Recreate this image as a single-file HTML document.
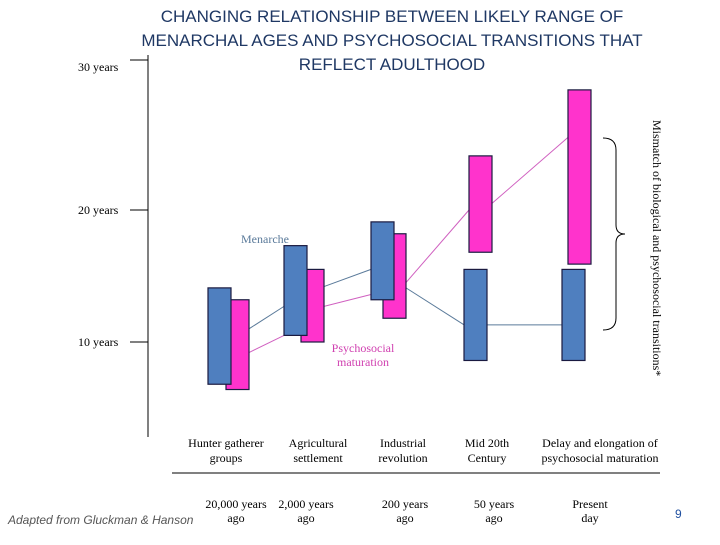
<!DOCTYPE html>
<html><head><meta charset="utf-8"><style>
body{margin:0;background:#fff;}
svg text{font-family:"Liberation Serif",serif;}
</style></head><body>
<svg width="720" height="540" xmlns="http://www.w3.org/2000/svg">
<g fill="#1f3864" font-size="17" text-anchor="middle">
<text x="392" y="22" style="font-family:'Liberation Sans',sans-serif">CHANGING RELATIONSHIP BETWEEN LIKELY RANGE OF</text>
<text x="392" y="46" style="font-family:'Liberation Sans',sans-serif">MENARCHAL AGES  AND PSYCHOSOCIAL TRANSITIONS THAT</text>
<text x="392" y="70" style="font-family:'Liberation Sans',sans-serif">REFLECT ADULTHOOD</text>
</g>
<line x1="148" y1="55" x2="148" y2="437" stroke="#000"/>
<g id="yticks"></g>
<g id="lines"></g>
<g id="boxes"></g>
<text x="265" y="243" font-size="12" fill="#5a7a9a" text-anchor="middle">Menarche</text>
<text x="363" y="352" font-size="12" fill="#d040b0" text-anchor="middle">Psychosocial</text>
<text x="363" y="366" font-size="12" fill="#d040b0" text-anchor="middle">maturation</text>
<path d="M603,138 Q616,138 616,150 L616,225 Q616,234 625,234 Q616,234 616,243 L616,318 Q616,330 603,330" fill="none" stroke="#000"/>
<text transform="translate(653,120) rotate(90)" font-size="12">Mismatch of biological and psychosocial transitions*</text>
<g id="cats" font-size="12" text-anchor="middle"></g>
<line x1="172" y1="473" x2="660" y2="473" stroke="#000"/>
<text x="8" y="524" font-size="12" fill="#555" font-style="italic" style="font-family:'Liberation Sans',sans-serif">Adapted from Gluckman &amp; Hanson</text>
<text x="675" y="518" font-size="12" fill="#2050a0" style="font-family:'Liberation Sans',sans-serif">9</text>
</svg>
<script>
const categories=[["Hunter gatherer","groups"],["Agricultural","settlement"],["Industrial","revolution"],["Mid 20th","Century"],["Delay and elongation of","psychosocial maturation"]];
const times=[["20,000 years","ago"],["2,000 years","ago"],["200 years","ago"],["50 years","ago"],["Present","day"]];
const menarcheLow=[6.8,10.5,13.2,8.6,8.6];
const menarcheHigh=[14.1,17.3,19.1,15.5,15.5];
const psychLow=[6.4,10.0,11.8,16.8,15.9];
const psychHigh=[13.2,15.5,18.2,24.1,29.1];
const menarcheTrendOut=[11.0,14.2,14.1,11.3];
const menarcheTrendIn=[12.7,15.5,11.3,11.3];
const psychTrendOut=[9.2,12.7,14.5,20.5];
const psychTrendIn=[10.5,13.6,20.0,25.5];
const yTicks=[10,20,30];
const yTickLabels=["10  years","20  years","30  years"];
const NS="http://www.w3.org/2000/svg";
const y=v=>474-13.2*v;
const bx=[208,284,371,464,562];
const px=[226,301,383,469,568];
const catX=[226,318,403,487,600];
const timeX=[236,306,405,494,590];
const W=23;
function mk(t,a,p){const e=document.createElementNS(NS,t);for(const k in a)e.setAttribute(k,a[k]);document.getElementById(p).appendChild(e);return e;}
yTicks.forEach((v,i)=>{
 const yy=i==2?60:y(v);
 const l=mk('line',{x1:130,x2:148,y1:yy,y2:yy,stroke:'#000'},'yticks');
 
 
 const t=mk('text',{x:78,y:(i==2?yy+11:yy+4),'font-size':12},'yticks');t.textContent=yTickLabels[i];
 
 
});
for(let i=0;i<5;i++){
 const p=mk('rect',{x:px[i],y:y(psychHigh[i]),width:W,height:y(psychLow[i])-y(psychHigh[i]),fill:'#ff33cc',stroke:'#1a1a40','stroke-width':1.2},'boxes');
 
 
 const b=mk('rect',{x:bx[i],y:y(menarcheHigh[i]),width:W,height:y(menarcheLow[i])-y(menarcheHigh[i]),fill:'#4f7fbf',stroke:'#1a1a40','stroke-width':1.2},'boxes');
 
 
 if(i>=3){p.parentNode.appendChild(p);}
 categories[i].forEach((s,j)=>{const t=mk('text',{x:catX[i],y:447+j*15,'font-size':12,'text-anchor':'middle'},'cats');t.textContent=s;
 
 });
 times[i].forEach((s,j)=>{const t=mk('text',{x:timeX[i],y:508+j*14,'font-size':12,'text-anchor':'middle'},'cats');t.textContent=s;
 
 });
}
for(let i=0;i<4;i++){
 const r=i<3?Math.max(bx[i],px[i])+W:bx[i]+W;
 const a=mk('line',{x1:r,y1:y(menarcheTrendOut[i]),x2:bx[i+1],y2:y(menarcheTrendIn[i]),stroke:'#5a7a9a'},'lines');
 
 
 const x2=i<2?bx[i+1]:px[i+1];
 const b=mk('line',{x1:px[i]+W,y1:y(psychTrendOut[i]),x2:x2,y2:y(psychTrendIn[i]),stroke:'#d060c0'},'lines');
 
 
}
</script>
</body></html>
